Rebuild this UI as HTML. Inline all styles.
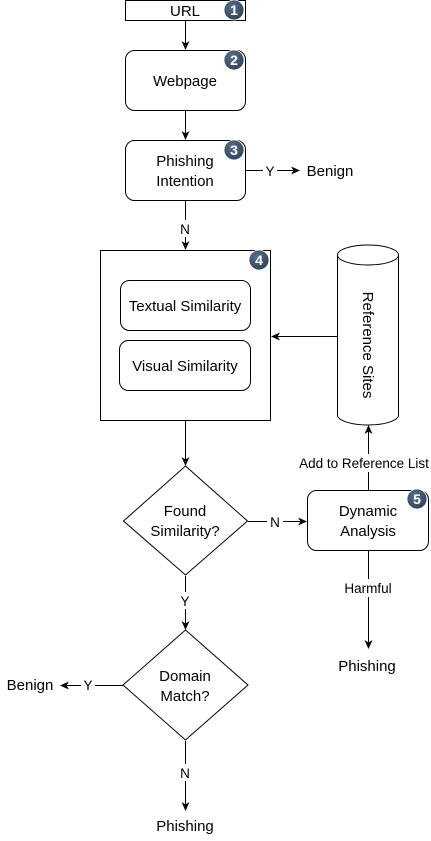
<!DOCTYPE html>
<html><head><meta charset="utf-8"><style>
html,body{margin:0;padding:0;background:#fff;}
svg{display:block;}
text{font-family:"Liberation Sans",Arial,sans-serif;fill:#000;}
</style></head><body>
<svg width="431" height="841" viewBox="0 0 431 841" xmlns="http://www.w3.org/2000/svg">
<defs>
<marker id="a" markerWidth="10" markerHeight="10" refX="8" refY="5" orient="auto" markerUnits="userSpaceOnUse">
<path d="M0,1 L9,5 L0,9 L2.5,5 Z" fill="#000"/></marker>
<radialGradient id="g" cx="0.4" cy="0.35" r="0.7"><stop offset="0" stop-color="#5a6f88"/><stop offset="1" stop-color="#2f4158"/></radialGradient>
</defs>
<g fill="none" stroke="#000" stroke-width="1">
<rect x="125.5" y="0.5" width="120" height="20" fill="#fff"/>
<rect x="125.5" y="50.5" width="120" height="60" rx="9" fill="#fff"/>
<rect x="125.5" y="140.5" width="120" height="60" rx="9" fill="#fff"/>
<rect x="100.5" y="250.5" width="170" height="170" fill="#fff"/>
<rect x="120.5" y="280.5" width="130" height="50" rx="9"/>
<rect x="119.5" y="340.5" width="131" height="50" rx="9"/>
<path d="M185.5,466 L247.5,521 L185.5,575 L123.5,521 Z" fill="#fff"/>
<path d="M185.5,630 L248,685 L185.5,740 L123,685 Z" fill="#fff"/>
<rect x="307.5" y="490.5" width="121" height="60" rx="9" fill="#fff"/>
<path d="M337.5,255 L337.5,415 A30.5,10 0 0 0 398.5,415 L398.5,255" fill="#fff"/>
<ellipse cx="368" cy="255" rx="30.5" ry="10" fill="#fff"/>
<line x1="185.5" y1="21" x2="185.5" y2="49" marker-end="url(#a)"/>
<line x1="185.5" y1="111" x2="185.5" y2="139" marker-end="url(#a)"/>
<line x1="245.5" y1="170.5" x2="299" y2="170.5" marker-end="url(#a)"/>
<line x1="185.5" y1="201" x2="185.5" y2="249" marker-end="url(#a)"/>
<line x1="337" y1="336.5" x2="272" y2="336.5" marker-end="url(#a)"/>
<line x1="185.5" y1="421" x2="185.5" y2="465" marker-end="url(#a)"/>
<line x1="248" y1="521.5" x2="306" y2="521.5" marker-end="url(#a)"/>
<line x1="368.5" y1="490" x2="368.5" y2="426" marker-end="url(#a)"/>
<line x1="368.5" y1="551" x2="368.5" y2="648" marker-end="url(#a)"/>
<line x1="185.5" y1="576" x2="185.5" y2="629" marker-end="url(#a)"/>
<line x1="123" y1="685.5" x2="61" y2="685.5" marker-end="url(#a)"/>
<line x1="185.5" y1="741" x2="185.5" y2="810" marker-end="url(#a)"/>
</g>
<g fill="#fff">
<rect x="263" y="162" width="14" height="16"/>
<rect x="178" y="220" width="14" height="17"/>
<rect x="296" y="454" width="135" height="18"/>
<rect x="267" y="513" width="16" height="17"/>
<rect x="340" y="579" width="56" height="18"/>
<rect x="178" y="592" width="14" height="17"/>
<rect x="81" y="677" width="14" height="16"/>
<rect x="178" y="764" width="14" height="17"/>
</g>
<g fill="url(#g)" stroke="#fff" stroke-width="0.8">
<circle cx="234" cy="10" r="10"/><circle cx="234" cy="60" r="10"/><circle cx="234" cy="150" r="10"/>
<circle cx="259" cy="260" r="10"/><circle cx="417" cy="499" r="10"/>
</g>
<g font-size="14" font-weight="bold" text-anchor="middle">
<text x="234" y="15" style="fill:#fff">1</text><text x="234" y="65" style="fill:#fff">2</text>
<text x="234" y="155" style="fill:#fff">3</text><text x="259" y="265" style="fill:#fff">4</text>
<text x="417" y="504" style="fill:#fff">5</text>
</g>
<g font-size="15" text-anchor="middle">
<text x="185" y="16">URL</text>
<text x="185" y="86">Webpage</text>
<text x="185" y="166">Phishing</text><text x="185" y="186">Intention</text>
<text x="185" y="311">Textual Similarity</text>
<text x="185" y="371">Visual Similarity</text>
<text x="185" y="516">Found</text><text x="185" y="536">Similarity?</text>
<text x="185" y="681">Domain</text><text x="185" y="701">Match?</text>
<text x="368" y="516">Dynamic</text><text x="368" y="536">Analysis</text>
<text x="330" y="176">Benign</text>
<text x="30" y="690">Benign</text>
<text x="367" y="671">Phishing</text>
<text x="185" y="831">Phishing</text>
<text transform="translate(363,345) rotate(90)">Reference Sites</text>
</g>
<g font-size="13.5" text-anchor="middle">
<text x="270" y="176">Y</text>
<text x="185" y="234">N</text>
<text x="364" y="468">Add to Reference List</text>
<text x="275" y="527">N</text>
<text x="368" y="593">Harmful</text>
<text x="185" y="606">Y</text>
<text x="88" y="690">Y</text>
<text x="185" y="778">N</text>
</g>
</svg>
</body></html>
